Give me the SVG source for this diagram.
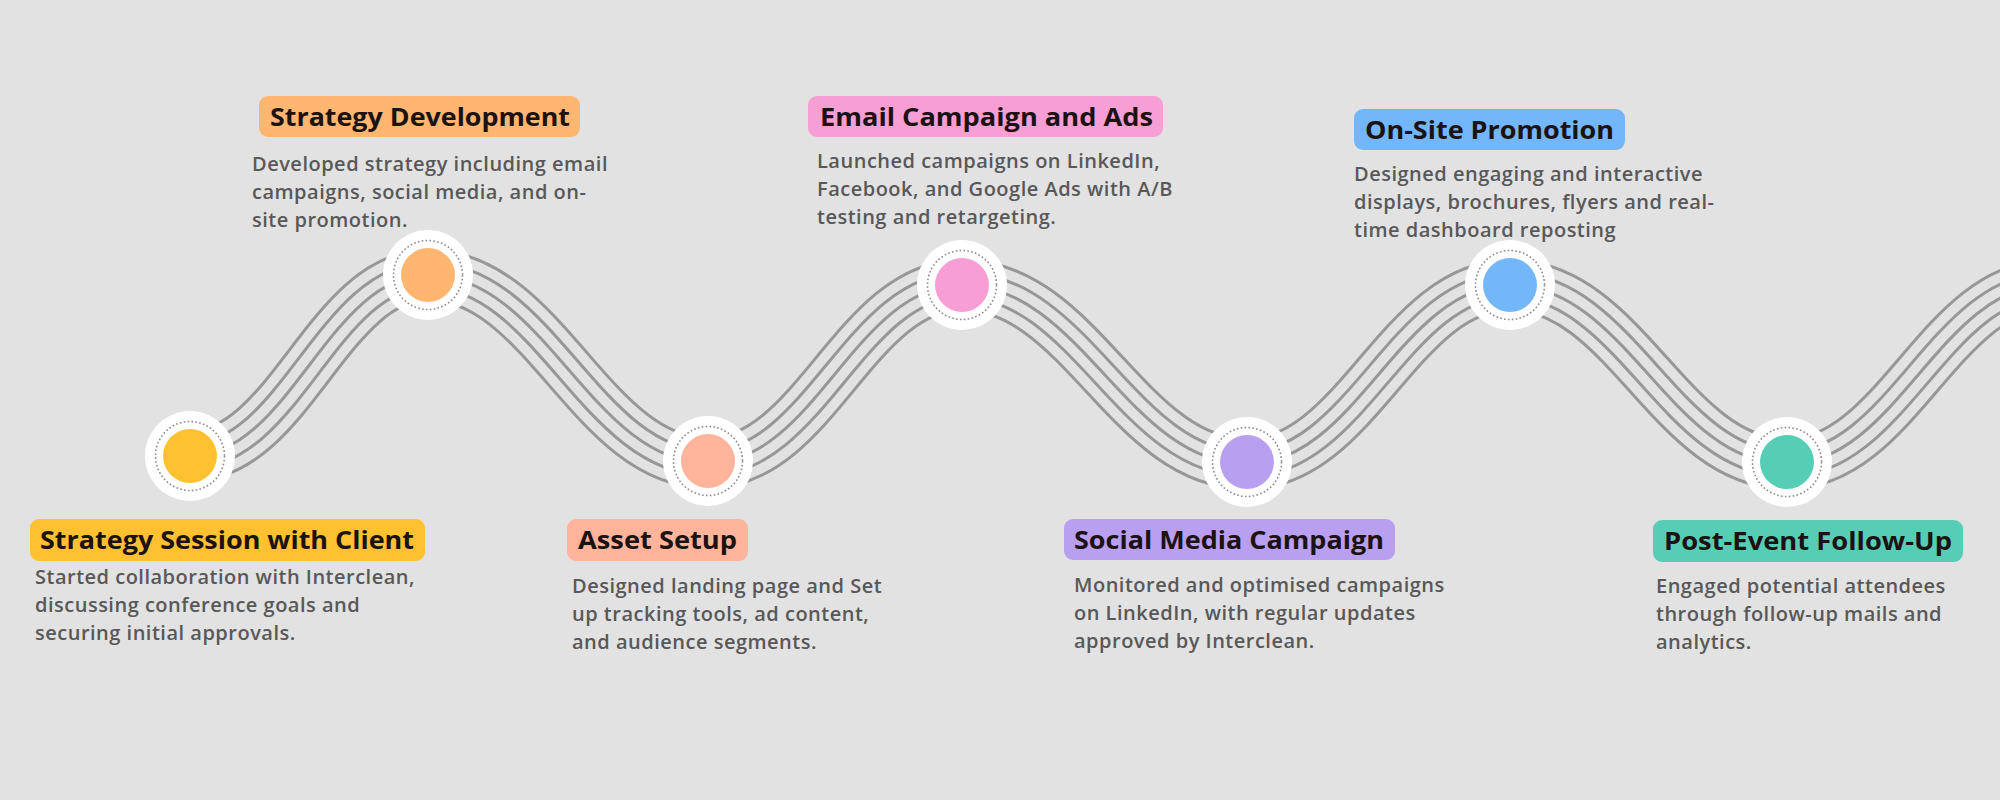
<svg xmlns="http://www.w3.org/2000/svg" width="2000" height="800" viewBox="0 0 2000 800">
<defs>
<style>
.bg{fill:#E2E2E2}
.w{fill:none;stroke-linecap:butt;stroke-linejoin:round}
.g1{stroke:#979797;stroke-width:53}
.b1{stroke:#E2E2E2;stroke-width:47}
.g2{stroke:#979797;stroke-width:28}
.b2{stroke:#E2E2E2;stroke-width:22}
.g3{stroke:#979797;stroke-width:3}
.halo{fill:#FFFFFF}
.dots{fill:none;stroke:#8A8A8A;stroke-width:1.6;stroke-dasharray:1.6 2.3}
.title{font-family:"Open Sans","Liberation Sans",sans-serif;font-weight:700;font-size:25px;fill:#1C1212}
.body{font-family:"Open Sans","Liberation Sans",sans-serif;font-weight:600;font-size:20px;letter-spacing:0.5px;fill:#585858}
</style>
<path id="wave" d="M190,456 C290,456 328,275 428,275 C545,275 591,463 708,463 C815,463 855,285 962,285 C1081,285 1128,464 1247,464 C1357,464 1400,285 1510,285 C1626,285 1671,464 1787,464 C1897,464 1940,285 2050,285"/>
</defs>
<rect class="bg" x="0" y="0" width="2000" height="800"/>
<g id="connectors">
<use href="#wave" class="w g1"/>
<use href="#wave" class="w b1"/>
<use href="#wave" class="w g2"/>
<use href="#wave" class="w b2"/>
<use href="#wave" class="w g3"/>
</g>
<g id="node1">
<circle class="halo" cx="190" cy="456" r="45"/>
<circle class="dots" cx="190" cy="456" r="34.5"/>
<circle cx="190" cy="456" r="27" fill="#FFC12F"/>
<rect x="30" y="519" width="395" height="42" rx="9" fill="#FFC12F"/>
<text class="title" x="40" y="549" textLength="374" lengthAdjust="spacingAndGlyphs">Strategy Session with Client</text>
<text class="body" x="35" y="584">Started collaboration with Interclean,</text>
<text class="body" x="35" y="612">discussing conference goals and</text>
<text class="body" x="35" y="640">securing initial approvals.</text>
</g>
<g id="node2">
<circle class="halo" cx="428" cy="275" r="45"/>
<circle class="dots" cx="428" cy="275" r="34.5"/>
<circle cx="428" cy="275" r="27" fill="#FFB671"/>
<rect x="259" y="96" width="321" height="41" rx="9" fill="#FFB671"/>
<text class="title" x="270" y="126" textLength="300" lengthAdjust="spacingAndGlyphs">Strategy Development</text>
<text class="body" x="252" y="171">Developed strategy including email</text>
<text class="body" x="252" y="199">campaigns, social media, and on-</text>
<text class="body" x="252" y="227">site promotion.</text>
</g>
<g id="node3">
<circle class="halo" cx="708" cy="461" r="45"/>
<circle class="dots" cx="708" cy="461" r="34.5"/>
<circle cx="708" cy="461" r="27" fill="#FFB49B"/>
<rect x="567" y="519" width="181" height="42" rx="9" fill="#FFB49B"/>
<text class="title" x="578" y="549" textLength="159" lengthAdjust="spacingAndGlyphs">Asset Setup</text>
<text class="body" x="572" y="593">Designed landing page and Set</text>
<text class="body" x="572" y="621">up tracking tools, ad content,</text>
<text class="body" x="572" y="649">and audience segments.</text>
</g>
<g id="node4">
<circle class="halo" cx="962" cy="285" r="45"/>
<circle class="dots" cx="962" cy="285" r="34.5"/>
<circle cx="962" cy="285" r="27" fill="#F79ED5"/>
<rect x="808" y="96" width="355" height="41" rx="9" fill="#F79ED5"/>
<text class="title" x="820" y="126" textLength="333" lengthAdjust="spacingAndGlyphs">Email Campaign and Ads</text>
<text class="body" x="817" y="168">Launched campaigns on LinkedIn,</text>
<text class="body" x="817" y="196">Facebook, and Google Ads with A/B</text>
<text class="body" x="817" y="224">testing and retargeting.</text>
</g>
<g id="node5">
<circle class="halo" cx="1247" cy="462" r="45"/>
<circle class="dots" cx="1247" cy="462" r="34.5"/>
<circle cx="1247" cy="462" r="27" fill="#B99FF0"/>
<rect x="1064" y="519" width="331" height="41" rx="9" fill="#B99FF0"/>
<text class="title" x="1074" y="549" textLength="310" lengthAdjust="spacingAndGlyphs">Social Media Campaign</text>
<text class="body" x="1074" y="592">Monitored and optimised campaigns</text>
<text class="body" x="1074" y="620">on LinkedIn, with regular updates</text>
<text class="body" x="1074" y="648">approved by Interclean.</text>
</g>
<g id="node6">
<circle class="halo" cx="1510" cy="285" r="45"/>
<circle class="dots" cx="1510" cy="285" r="34.5"/>
<circle cx="1510" cy="285" r="27" fill="#74B6FA"/>
<rect x="1354" y="109" width="271" height="41" rx="9" fill="#74B6FA"/>
<text class="title" x="1365" y="139" textLength="249" lengthAdjust="spacingAndGlyphs">On-Site Promotion</text>
<text class="body" x="1354" y="181">Designed engaging and interactive</text>
<text class="body" x="1354" y="209">displays, brochures, flyers and real-</text>
<text class="body" x="1354" y="237">time dashboard reposting</text>
</g>
<g id="node7">
<circle class="halo" cx="1787" cy="462" r="45"/>
<circle class="dots" cx="1787" cy="462" r="34.5"/>
<circle cx="1787" cy="462" r="27" fill="#55CEB5"/>
<rect x="1653" y="520" width="310" height="42" rx="9" fill="#55CEB5"/>
<text class="title" x="1664" y="550" textLength="288" lengthAdjust="spacingAndGlyphs">Post-Event Follow-Up</text>
<text class="body" x="1656" y="593">Engaged potential attendees</text>
<text class="body" x="1656" y="621">through follow-up mails and</text>
<text class="body" x="1656" y="649">analytics.</text>
</g>
</svg>
